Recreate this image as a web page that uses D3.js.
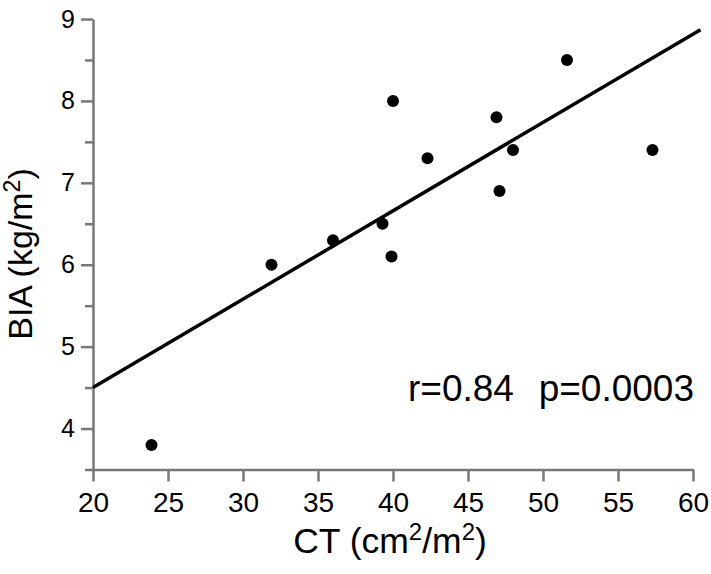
<!DOCTYPE html>
<html>
<head>
<meta charset="utf-8">
<script src="https://cdn.jsdelivr.net/npm/d3@7"></script>
<style>
  html, body { margin: 0; padding: 0; background: #fff; }
  svg { display: block; font-family: "Liberation Sans", Arial, Helvetica, sans-serif; }
</style>
</head>
<body>
<svg id="chart" width="711" height="574"></svg>
<script>
// ---- data ----
const ctValues  = [23.9, 31.9, 36.0, 39.3, 39.9, 40.0, 42.3, 46.9, 47.1, 48.0, 51.6, 57.3];
const biaValues = [3.8, 6.0, 6.3, 6.5, 6.1, 8.0, 7.3, 7.8, 6.9, 7.4, 8.5, 7.4];
const fitX = [20, 60.5];
const fitY = [4.5, 8.87];
const xTicks = [20, 25, 30, 35, 40, 45, 50, 55, 60];
const yTicks = [4, 5, 6, 7, 8, 9];
const yMinorTicks = [3.5, 4.5, 5.5, 6.5, 7.5, 8.5];
const statR = "r=0.84";
const statP = "p=0.0003";

// ---- layout ----
const svg = d3.select("#chart");
const x = d3.scaleLinear().domain([20, 60]).range([93, 693]);
const y = d3.scaleLinear().domain([3.5, 9]).range([469.5, 19]);
const axisColor = "#777";

// y axis minor ticks
const gyMinor = svg.append("g").attr("transform", `translate(${x(20)},0)`)
  .call(d3.axisLeft(y).tickValues(yMinorTicks).tickSize(8).tickFormat(""));
// y axis major
const gy = svg.append("g").attr("transform", `translate(${x(20)},0)`)
  .call(d3.axisLeft(y).tickValues(yTicks).tickSize(12).tickPadding(6).tickSizeOuter(0).tickFormat(d3.format("d")));
// x axis
const gx = svg.append("g").attr("transform", `translate(0,${y(3.5)})`)
  .call(d3.axisBottom(x).tickValues(xTicks).tickSize(12).tickPadding(11).tickSizeOuter(0).tickFormat(d3.format("d")));

[gyMinor, gy, gx].forEach(g => {
  g.select(".domain").attr("stroke", axisColor).attr("stroke-width", 2.5);
  g.selectAll(".tick line").attr("stroke", axisColor).attr("stroke-width", 2.5);
});
gyMinor.select(".domain").remove();
gy.selectAll(".tick text").attr("font-size", 25).attr("fill", "#000");
gx.selectAll(".tick text").attr("font-size", 28).attr("fill", "#000").attr("dy", "0.71em");

// regression line
svg.append("line")
  .attr("x1", x(fitX[0])).attr("y1", y(fitY[0]))
  .attr("x2", x(fitX[1])).attr("y2", y(fitY[1]))
  .attr("stroke", "#000").attr("stroke-width", 3.5);

// points
svg.append("g").selectAll("circle")
  .data(ctValues.map((v, i) => ({ x: v, y: biaValues[i] })))
  .join("circle")
  .attr("cx", d => x(d.x)).attr("cy", d => y(d.y))
  .attr("r", 6).attr("fill", "#000");

// stats text
svg.append("text").attr("x", 408).attr("y", 401)
  .attr("font-size", 37).attr("fill", "#000").text(statR);
svg.append("text").attr("x", 694).attr("y", 401).attr("text-anchor", "end")
  .attr("font-size", 37).attr("fill", "#000").text(statP);

// x axis title
const xt = svg.append("text").attr("x", 390).attr("y", 553)
  .attr("text-anchor", "middle").attr("font-size", 35.5).attr("fill", "#000");
xt.append("tspan").text("CT (cm");
xt.append("tspan").attr("font-size", 24).attr("dy", -13).text("2");
xt.append("tspan").attr("dy", 13).text("/m");
xt.append("tspan").attr("font-size", 24).attr("dy", -13).text("2");
xt.append("tspan").attr("dy", 13).text(")");

// y axis title
const yt = svg.append("text")
  .attr("transform", "translate(32,254) rotate(-90)")
  .attr("text-anchor", "middle").attr("font-size", 34).attr("fill", "#000");
yt.append("tspan").text("BIA (kg/m");
yt.append("tspan").attr("font-size", 23).attr("dy", -12).text("2");
yt.append("tspan").attr("dy", 12).text(")");
</script>
</body>
</html>
